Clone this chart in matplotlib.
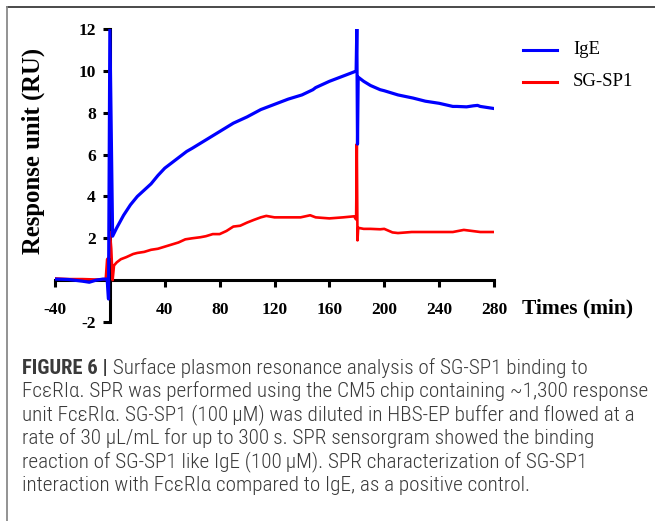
import matplotlib
matplotlib.use("Agg")
import matplotlib.pyplot as plt
from matplotlib.lines import Line2D

# ---------------- data ----------------
t_ige = [-40, -30, -20, -15, -10, -5, -2, -1, 0, 2, 5, 10, 15, 20, 25, 30, 35, 40,
         50, 56, 60, 70, 80, 90, 100, 110, 120, 130, 140, 148, 150, 160, 170, 178,
         179.5, 180, 180.5, 181, 185, 190, 197, 200, 210, 221, 230, 240, 250, 253,
         260, 265, 268, 270, 280]
ige = [0.05, 0.03, -0.05, -0.1, 0.0, 0.05, 0.05, -0.9, 12.0, 2.1, 2.5, 3.1, 3.6, 4.0,
       4.3, 4.6, 5.0, 5.35, 5.85, 6.15, 6.3, 6.7, 7.1, 7.5, 7.8, 8.15, 8.4, 8.65, 8.85,
       9.1, 9.2, 9.5, 9.75, 9.95, 10.0, 12.0, 6.5, 9.7, 9.5, 9.3, 9.1, 9.05, 8.85, 8.7,
       8.55, 8.45, 8.3, 8.3, 8.28, 8.33, 8.35, 8.3, 8.2]

t_sg = [-40, -30, -20, -10, -3, -2, -0.5, 0, 1, 2, 3, 5, 8, 12, 17, 20, 25, 30, 35,
        40, 45, 50, 55, 60, 66, 70, 75, 78, 80, 85, 90, 95, 100, 105, 110, 114, 120,
        130, 139, 146, 150, 160, 170, 178, 179.5, 180, 180.5, 181, 185, 190, 197,
        200, 206, 210, 220, 234, 240, 250, 258, 270, 280]
sg = [0.08, 0.05, 0.05, 0.03, 0.05, 1.0, 1.1, 2.3, 1.5, 0.0, 0.7, 0.85, 1.0, 1.1,
      1.25, 1.3, 1.35, 1.45, 1.5, 1.6, 1.7, 1.8, 1.95, 2.0, 2.05, 2.1, 2.2, 2.2, 2.2,
      2.35, 2.56, 2.6, 2.75, 2.88, 3.0, 3.07, 3.0, 3.0, 3.0, 3.1, 3.0, 2.95, 3.0, 3.05,
      2.9, 6.5, 1.9, 2.5, 2.45, 2.45, 2.43, 2.45, 2.28, 2.25, 2.3, 2.3, 2.3, 2.3, 2.4,
      2.3, 2.3]

x_ticks = [-40, 40, 80, 120, 160, 200, 240, 280]
y_ticks = [-2, 2, 4, 6, 8, 10, 12]
series_labels = ["IgE", "SG-SP1"]

caption_bold = "FIGURE 6 |"
caption_lines = [
    " Surface plasmon resonance analysis of SG-SP1 binding to",
    "Fc\u03b5RI\u03b1. SPR was performed using the CM5 chip containing ~1,300 response",
    "unit Fc\u03b5RI\u03b1. SG-SP1 (100\u2009\u03bcM) was diluted in HBS-EP buffer and flowed at a",
    "rate of 30 \u03bcL/mL for up to 300\u2009s. SPR sensorgram showed the binding",
    "reaction of SG-SP1 like IgE (100\u2009\u03bcM). SPR characterization of SG-SP1",
    "interaction with Fc\u03b5RI\u03b1 compared to IgE, as a positive control.",
]

# ---------------- figure ----------------
W, H = 655, 521
fig = plt.figure(figsize=(W / 100, H / 100), dpi=100)
fig.patch.set_facecolor("white")

ax = fig.add_axes([55 / W, 1 - 322 / H, (494 - 55) / W, (322 - 29) / H])
ax.set_xlim(-40, 280)
ax.set_ylim(-2, 12)

ax.plot(t_sg, sg, color="#ff0000", lw=1.9, label=series_labels[1], zorder=3)
ax.plot(t_ige, ige, color="#0000ff", lw=2.3, label=series_labels[0], zorder=4)

for s in ["top", "right"]:
    ax.spines[s].set_visible(False)
ax.spines["left"].set_position(("data", 0))
ax.spines["bottom"].set_position(("data", 0))
ax.spines["left"].set_linewidth(2.2)
ax.spines["bottom"].set_linewidth(2.2)
ax.spines["left"].set_bounds(-2, 12)
ax.spines["bottom"].set_bounds(-40, 280)
ax.spines["left"].set_zorder(2)
ax.spines["bottom"].set_zorder(2)

serif = ["Liberation Serif", "DejaVu Serif"]
ax.set_xticks(x_ticks)
ax.set_xticklabels([str(v) for v in x_ticks], fontfamily=serif, fontweight="bold",
                   fontsize=12.5)
ax.set_yticks(y_ticks)
ax.set_yticklabels([str(v) for v in y_ticks], fontfamily=serif, fontweight="bold",
                   fontsize=12.5)
ax.tick_params(axis="both", direction="out", length=5, width=2.2, color="black")
ax.tick_params(axis="x", pad=11)
ax.tick_params(axis="y", pad=5)
ax.patch.set_alpha(0)

fig.text(33 / W, 1 - 151 / H, "Response unit (RU)", rotation=90, ha="center",
         va="center", fontfamily=serif, fontweight="bold", fontsize=17.8)
fig.text(522 / W, 1 - 308 / H, "Times (min)", ha="left", va="center",
         fontfamily=serif, fontweight="bold", fontsize=15.5)

# legend
for yy, col, lab in [(50, "#0000ff", series_labels[0]), (82, "#ff0000", series_labels[1])]:
    fig.add_artist(Line2D([523 / W, 557 / W], [1 - yy / H, 1 - yy / H], color=col,
                          lw=2.2, transform=fig.transFigure))
    fig.text(573 / W, 1 - yy / H, lab, ha="left", va="center", fontfamily=serif,
             fontsize=13.5)

# border
fig.add_artist(Line2D([7 / W, 1], [1 - 7 / H, 1 - 7 / H], color="#3c3c3c", lw=1.3,
                      transform=fig.transFigure))
fig.add_artist(Line2D([7 / W, 7 / W], [0, 1 - 7 / H], color="#8a8a8a", lw=1.3,
                      transform=fig.transFigure))

# caption (font size fitted so line 3 spans the reference width)
cap_font = ["Roboto Condensed", "Liberation Sans Narrow", "Roboto", "DejaVu Sans"]
cap_color = "#3a3a3a"
cap_weight = "light"
renderer = fig.canvas.get_renderer()
probe = fig.text(0, 0, caption_lines[2], fontfamily=cap_font, fontsize=10,
                 fontweight=cap_weight)
pw = probe.get_window_extent(renderer=renderer).width
probe.remove()
cap_size = 10 * 613 / pw

x0 = 22 / W
line_ys = [368, 391.5, 415, 438.5, 462, 485.5]
tb = fig.text(x0, 1 - line_ys[0] / H, caption_bold, ha="left", va="center",
              fontfamily=cap_font, fontweight="bold", fontsize=cap_size * 0.97,
              color=cap_color)
bb = tb.get_window_extent(renderer=renderer)
fig.text(bb.x1 / W, 1 - line_ys[0] / H, caption_lines[0], ha="left", va="center",
         fontfamily=cap_font, fontweight=cap_weight, fontsize=cap_size, color=cap_color)
for ly, txt in zip(line_ys[1:], caption_lines[1:]):
    fig.text(x0, 1 - ly / H, txt, ha="left", va="center", fontfamily=cap_font,
             fontweight=cap_weight, fontsize=cap_size, color=cap_color)

fig.savefig("out.png", dpi=100)
